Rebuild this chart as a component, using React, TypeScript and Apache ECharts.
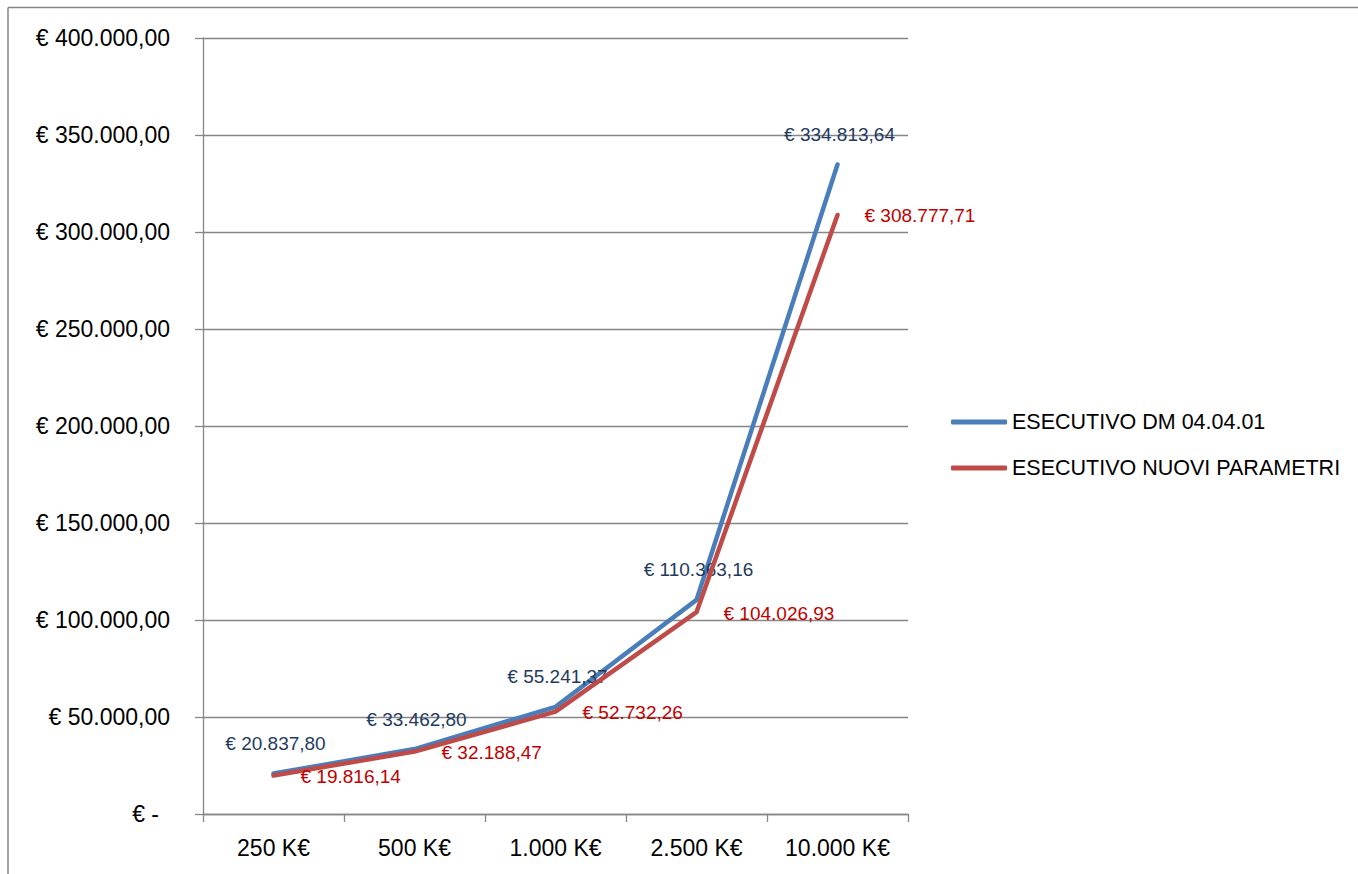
import React, { useEffect, useRef } from "react";
import * as echarts from "echarts";

const categories = ["250 K€", "500 K€", "1.000 K€", "2.500 K€", "10.000 K€"];
const dmValues = [20837.8, 33462.8, 55241.37, 110363.16, 334813.64];
const nuoviValues = [19816.14, 32188.47, 52732.26, 104026.93, 308777.71];
const seriesNames = ["ESECUTIVO DM 04.04.01", "ESECUTIVO NUOVI PARAMETRI"];
const yMin = 0;
const yMax = 400000;
const yStep = 50000;

function fmtIt(v: number): string {
  const fixed = v.toFixed(2);
  const [intPart, dec] = fixed.split(".");
  const grouped = intPart.replace(/\B(?=(\d{3})+(?!\d))/g, ".");
  return grouped + "," + dec;
}

const FONT = "'Liberation Sans', Arial, sans-serif";

export default function App() {
  const ref = useRef<HTMLDivElement>(null);
  useEffect(() => {
    document.body.style.margin = "0";
    if (!ref.current) return;
    const chart = echarts.init(ref.current, undefined, { renderer: "svg" });
    const gray = "#868686";
    chart.setOption({
      animation: false,
      textStyle: { fontFamily: FONT },
      grid: { left: 203, right: 450, top: 38, bottom: 60, containLabel: false },
      legend: {
        orient: "vertical",
        left: 946,
        top: 406,
        itemWidth: 56,
        itemHeight: 5,
        itemGap: 24,
        icon: "roundRect",
        textStyle: { fontSize: 21.5, color: "#000", fontFamily: FONT, lineHeight: 22 },
        data: seriesNames,
      },
      xAxis: {
        type: "category",
        data: categories,
        boundaryGap: true,
        axisLine: { lineStyle: { color: gray, width: 1.3 } },
        axisTick: { show: true, length: 8, lineStyle: { color: gray, width: 1.3 } },
        axisLabel: { fontSize: 23, color: "#000", margin: 22, fontFamily: FONT },
      },
      yAxis: {
        type: "value",
        min: yMin,
        max: yMax,
        interval: yStep,
        axisLine: { show: true, lineStyle: { color: gray, width: 1.3 } },
        axisTick: { show: true, length: 8, lineStyle: { color: gray, width: 1.3 } },
        splitLine: { show: true, lineStyle: { color: gray, width: 1.3 } },
        axisLabel: {
          fontSize: 23,
          color: "#000",
          margin: 33,
          fontFamily: FONT,
          formatter: (v: number) => (v === 0 ? "{z|€ -}" : "€ " + fmtIt(v)),
          rich: { z: { fontSize: 23, color: "#000", padding: [0, 11, 0, 0], fontFamily: FONT } },
        },
      },
      series: [
        {
          name: seriesNames[0],
          type: "line",
          data: dmValues,
          symbol: "circle",
          symbolSize: 2,
          showSymbol: true,
          itemStyle: { color: "#4A7EBB" },
          lineStyle: { color: "#4A7EBB", width: 4.5, cap: "round", join: "round" },
          label: {
            show: true,
            position: [3, -29],
            align: "center",
            verticalAlign: "middle",
            color: "#1F3A5F",
            fontSize: 19,
            fontFamily: FONT,
            formatter: (p: any) => "€ " + fmtIt(p.value),
          },
          z: 2,
        },
        {
          name: seriesNames[1],
          type: "line",
          data: nuoviValues,
          symbol: "circle",
          symbolSize: 2,
          showSymbol: true,
          itemStyle: { color: "#BE4B48" },
          lineStyle: { color: "#BE4B48", width: 4.5, cap: "round", join: "round" },
          label: {
            show: true,
            position: [28, 2],
            align: "left",
            verticalAlign: "middle",
            color: "#C00000",
            fontSize: 19,
            fontFamily: FONT,
            formatter: (p: any) => "€ " + fmtIt(p.value),
          },
          z: 3,
        },
      ],
      graphic: [
        { type: "line", shape: { x1: 8, y1: 7.5, x2: 1358, y2: 7.5 }, style: { stroke: gray, lineWidth: 1.5 } },
        { type: "line", shape: { x1: 8, y1: 7.5, x2: 8, y2: 874 }, style: { stroke: gray, lineWidth: 1.5 } },
      ],
    });
    return () => chart.dispose();
  }, []);
  return <div ref={ref} style={{ width: 1358, height: 874 }} />;
}
